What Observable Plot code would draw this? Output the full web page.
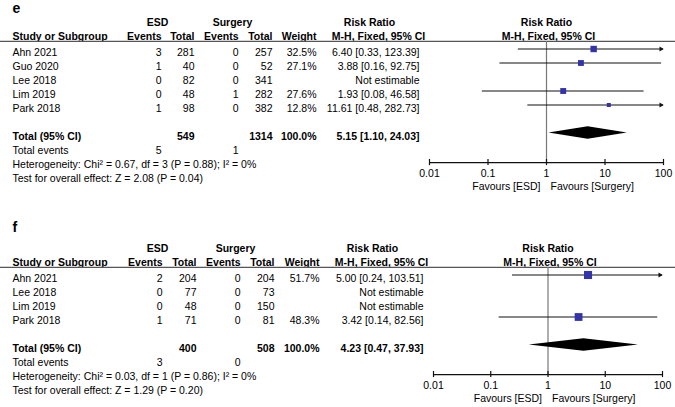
<!DOCTYPE html>
<html><head><meta charset="utf-8">
<script src="https://cdn.jsdelivr.net/npm/d3@7"></script>
<script src="https://cdn.jsdelivr.net/npm/@observablehq/plot@0.6"></script>
<style>
body{margin:0;background:#fff;}
#chart svg{display:block;}
</style></head><body><div id="chart"></div>
<script>
// ---------- Panel e data ----------
const studiesE = ["Ahn 2021", "Guo 2020", "Lee 2018", "Lim 2019", "Park 2018"];
const esdEventsE = [3, 1, 0, 0, 1];
const esdTotalsE = [281, 40, 82, 48, 98];
const surgEventsE = [0, 0, 0, 1, 0];
const surgTotalsE = [257, 52, 341, 282, 382];
const weightsE = [32.5, 27.1, null, 27.6, 12.8];
const rrE = [6.40, 3.88, null, 1.93, 11.61];
const ciLowE = [0.33, 0.16, null, 0.08, 0.48];
const ciHighE = [123.39, 92.75, null, 46.58, 282.73];
const totalE = [549, 1314, 5.15, 1.10, 24.03];      // ESD total, Surgery total, RR, low, high
const totalEventsE = [5, 1];
const heterogeneityE = ["0.67", "3", "0.88", "0"];   // Chi², df, P, I²
const overallEffectE = ["2.08", "0.04"];             // Z, P

// ---------- Panel f data ----------
const studiesF = ["Ahn 2021", "Lee 2018", "Lim 2019", "Park 2018"];
const esdEventsF = [2, 0, 0, 1];
const esdTotalsF = [204, 77, 48, 71];
const surgEventsF = [0, 0, 0, 0];
const surgTotalsF = [204, 73, 150, 81];
const weightsF = [51.7, null, null, 48.3];
const rrF = [5.00, null, null, 3.42];
const ciLowF = [0.24, null, null, 0.14];
const ciHighF = [103.51, null, null, 82.56];
const totalF = [400, 508, 4.23, 0.47, 37.93];
const totalEventsF = [3, 0];
const heterogeneityF = ["0.03", "1", "0.86", "0"];
const overallEffectF = ["1.29", "0.20"];

// ---------- Labels ----------
const headerTop = ["ESD", "Surgery", "Risk Ratio"];
const headerCols = ["Study or Subgroup", "Events", "Total", "Events", "Total", "Weight", "M-H, Fixed, 95% CI"];
const tickValues = [0.01, 0.1, 1, 10, 100];
const tickLabels = ["0.01", "0.1", "1", "10", "100"];
const favourLabels = ["Favours [ESD]", "Favours [Surgery]"];

// ---------- Layout (positions/styles only) ----------
const layoutE = {letter: "e", height: 200, row0: 52, letterRow: -3.14, xRange: [429, 663],
  cols: {study: 12, esdEv: 161, esdTot: 194, surgEv: 238, surgTot: 272, weight: 316, rr: 419,
         esdHead: 157, surgHead: 232, rrHead: 369, mhHead: 378}};
const layoutF = {letter: "f", height: 207, row0: 78, letterRow: -3.61, xRange: [433, 662],
  cols: {study: 12, esdEv: 162, esdTot: 196, surgEv: 240, surgTot: 274, weight: 319, rr: 423,
         esdHead: 157, surgHead: 235, rrHead: 372, mhHead: 381}};

const FONT = "'Liberation Sans', Arial, Helvetica, sans-serif";
const BLUE = "#3333aa";

function ciText(rr, lo, hi) { return `${rr.toFixed(2)} [${lo.toFixed(2)}, ${hi.toFixed(2)}]`; }

function panel(d, L) {
  const n = d.studies.length;
  const rows = d.studies.map((s, i) => ({row: i, study: s, esdEv: String(d.esdEvents[i]), esdTot: String(d.esdTotals[i]),
    surgEv: String(d.surgEvents[i]), surgTot: String(d.surgTotals[i]), w: d.weights[i], rr: d.rr[i], lo: d.lo[i], hi: d.hi[i]}));
  const est = rows.filter(r => r.rr != null);
  const xMax = tickValues[tickValues.length - 1], xMin = tickValues[0];
  const tRow = n + 1, evRow = n + 2, hetRow = n + 3, testRow = n + 4;
  const axisRow = n + 2.86, tickRow = n + 3.63, favRow = n + 4.57;
  const head1 = -2.15, head2 = -1.16, ruleRow = -0.79;
  const C = L.cols;
  const mdy = -3.5;

  const txt = (data, text, key, anchor, opts = {}) =>
    Plot.text(data, {frameAnchor: "left", y: "row", text, dx: C[key], textAnchor: anchor, ...opts});
  const one = (row, t) => [{row, t: String(t)}];

  const T = d.total;
  const diamond = [
    {x: T[3], y1: tRow, y2: tRow},
    {x: T[2], y1: tRow - 0.44, y2: tRow + 0.44},
    {x: T[4], y1: tRow, y2: tRow}
  ];

  const marks = [
    // panel letter
    txt(one(L.letterRow, L.letter), "t", "study", "start", {fontWeight: "bold", fontSize: 14}),
    // header row 1
    txt(one(head1, headerTop[0]), "t", "esdHead", "middle", {fontWeight: "bold"}),
    txt(one(head1, headerTop[1]), "t", "surgHead", "middle", {fontWeight: "bold"}),
    txt(one(head1, headerTop[2]), "t", "rrHead", "middle", {fontWeight: "bold"}),
    Plot.text([headerTop[2]], {x: () => 1, y: () => head1, fontWeight: "bold"}),
    // header row 2
    txt(one(head2, headerCols[0]), "t", "study", "start", {fontWeight: "bold"}),
    txt(one(head2, headerCols[1]), "t", "esdEv", "end", {fontWeight: "bold"}),
    txt(one(head2, headerCols[2]), "t", "esdTot", "end", {fontWeight: "bold"}),
    txt(one(head2, headerCols[3]), "t", "surgEv", "end", {fontWeight: "bold"}),
    txt(one(head2, headerCols[4]), "t", "surgTot", "end", {fontWeight: "bold"}),
    txt(one(head2, headerCols[5]), "t", "weight", "end", {fontWeight: "bold"}),
    txt(one(head2, headerCols[6]), "t", "mhHead", "middle", {fontWeight: "bold"}),
    Plot.text([headerCols[6]], {x: () => 1, y: () => head2, dx: 2, fontWeight: "bold"}),
    // header rule
    Plot.ruleY([ruleRow], {stroke: "#555", strokeWidth: 1.2}),
    // study rows
    txt(rows, "study", "study", "start"),
    txt(rows, "esdEv", "esdEv", "end"),
    txt(rows, "esdTot", "esdTot", "end"),
    txt(rows, "surgEv", "surgEv", "end"),
    txt(rows, "surgTot", "surgTot", "end"),
    txt(rows, r => r.w == null ? "" : r.w.toFixed(1) + "%", "weight", "end"),
    txt(rows, r => r.rr == null ? "Not estimable" : ciText(r.rr, r.lo, r.hi), "rr", "end"),
    // total row
    txt(one(tRow, "Total (95% CI)"), "t", "study", "start", {fontWeight: "bold"}),
    txt(one(tRow, T[0]), "t", "esdTot", "end", {fontWeight: "bold"}),
    txt(one(tRow, T[1]), "t", "surgTot", "end", {fontWeight: "bold"}),
    txt(one(tRow, d3.sum(d.weights).toFixed(1) + "%"), "t", "weight", "end", {fontWeight: "bold"}),
    txt(one(tRow, ciText(T[2], T[3], T[4])), "t", "rr", "end", {fontWeight: "bold"}),
    // total events
    txt(one(evRow, "Total events"), "t", "study", "start"),
    txt(one(evRow, d.totalEvents[0]), "t", "esdEv", "end"),
    txt(one(evRow, d.totalEvents[1]), "t", "surgEv", "end"),
    // heterogeneity & overall
    txt(one(hetRow, `Heterogeneity: Chi² = ${d.het[0]}, df = ${d.het[1]} (P = ${d.het[2]}); I² = ${d.het[3]}%`), "t", "study", "start"),
    txt(one(testRow, `Test for overall effect: Z = ${d.z[0]} (P = ${d.z[1]})`), "t", "study", "start"),
    // line of no effect
    Plot.ruleX([1], {y1: () => ruleRow, y2: () => axisRow, stroke: "#777", strokeWidth: 1.2}),
    // CI lines
    Plot.ruleY(est, {y: "row", x1: "lo", x2: r => Math.min(r.hi, xMax), stroke: "#111", strokeWidth: 1, dy: mdy}),
    Plot.dot(est.filter(r => r.hi > xMax), {x: () => xMax, y: "row", symbol: "triangle", rotate: 90, r: 1.8,
      fill: "#111", stroke: "none", dy: mdy, dx: -2.6}),
    // squares
    Plot.dot(est, {x: "rr", y: "row", r: "w", symbol: "square", fill: BLUE, stroke: "none", dy: mdy}),
    // diamond
    Plot.area(diamond, {x1: "x", y1: "y1", y2: "y2", fill: "black", dy: mdy}),
    // axis
    Plot.ruleY([axisRow], {x1: () => xMin, x2: () => xMax, stroke: "#111", strokeWidth: 1.2}),
    Plot.ruleX(tickValues, {x: v => v, y1: () => axisRow - 0.22, y2: () => axisRow + 0.22, stroke: "#111", strokeWidth: 1.2}),
    Plot.text(tickValues, {x: v => v, y: () => tickRow, text: (v, i) => tickLabels[i]}),
    Plot.text([favourLabels[0]], {x: () => 1, y: () => favRow, textAnchor: "end", dx: -6}),
    Plot.text([favourLabels[1]], {x: () => 1, y: () => favRow, textAnchor: "start", dx: 4})
  ];

  return Plot.plot({
    width: 675, height: L.height,
    marginLeft: 0, marginRight: 0, marginTop: 0, marginBottom: 0,
    style: {fontFamily: FONT, fontSize: "10.5px", background: "white", color: "black"},
    x: {type: "log", domain: [xMin, xMax], range: L.xRange, axis: null},
    y: {type: "linear", domain: [0, 1], range: [L.row0, L.row0 + 14], axis: null},
    r: {type: "sqrt", domain: [0, 55], range: [0, 4.7]},
    marks
  });
}

const dataE = {studies: studiesE, esdEvents: esdEventsE, esdTotals: esdTotalsE, surgEvents: surgEventsE,
  surgTotals: surgTotalsE, weights: weightsE, rr: rrE, lo: ciLowE, hi: ciHighE, total: totalE,
  totalEvents: totalEventsE, het: heterogeneityE, z: overallEffectE};
const dataF = {studies: studiesF, esdEvents: esdEventsF, esdTotals: esdTotalsF, surgEvents: surgEventsF,
  surgTotals: surgTotalsF, weights: weightsF, rr: rrF, lo: ciLowF, hi: ciHighF, total: totalF,
  totalEvents: totalEventsF, het: heterogeneityF, z: overallEffectF};

const root = document.getElementById("chart");
root.appendChild(panel(dataE, layoutE));
root.appendChild(panel(dataF, layoutF));
</script></body></html>
